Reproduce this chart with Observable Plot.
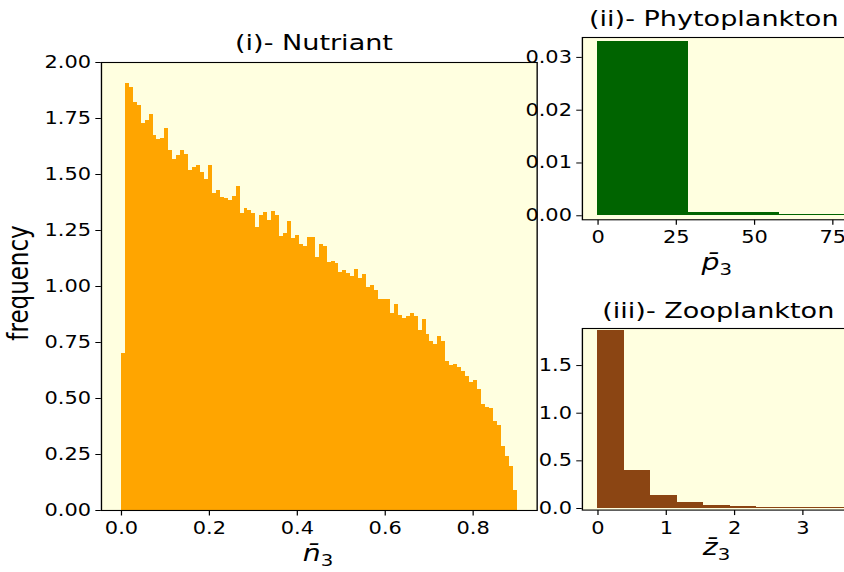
<!DOCTYPE html>
<html>
<head>
<meta charset="utf-8">
<script src="https://cdn.jsdelivr.net/npm/d3@7"></script>
<script src="https://cdn.jsdelivr.net/npm/@observablehq/plot@0.6"></script>
<style>
  html, body { margin: 0; padding: 0; background: #ffffff; overflow: hidden; width: 844px; height: 572px; }
  #stage { position: absolute; left: 0; top: 0; height: 572px; transform-origin: 0 0; }
  #stage > svg { position: absolute; }
</style>
</head>
<body>
<div id="stage"></div>
<script>
// ---------- data ----------
const nutrientRange = [0, 0.9];
const nutrientFreq = [
  0.700, 1.906, 1.890, 1.821, 1.810, 1.729, 1.741, 1.769, 1.674, 1.658,
  1.662, 1.705, 1.609, 1.568, 1.585, 1.607, 1.589, 1.519, 1.531, 1.540,
  1.510, 1.479, 1.540, 1.415, 1.429, 1.399, 1.394, 1.385, 1.403, 1.446,
  1.327, 1.350, 1.341, 1.326, 1.265, 1.317, 1.330, 1.296, 1.335, 1.317,
  1.225, 1.238, 1.290, 1.216, 1.229, 1.189, 1.180, 1.220, 1.220, 1.131,
  1.189, 1.179, 1.109, 1.112, 1.103, 1.063, 1.071, 1.058, 1.045, 1.076,
  1.037, 1.052, 0.997, 1.004, 0.982, 0.942, 0.942, 0.942, 0.879, 0.920,
  0.871, 0.859, 0.866, 0.879, 0.866, 0.804, 0.853, 0.786, 0.754, 0.741,
  0.777, 0.754, 0.665, 0.647, 0.652, 0.638, 0.621, 0.598, 0.571, 0.580,
  0.540, 0.473, 0.460, 0.455, 0.397, 0.379, 0.286, 0.241, 0.196, 0.089
];
const nutrientXTicks = [0, 0.2, 0.4, 0.6, 0.8];
const nutrientYTicks = [0, 0.25, 0.5, 0.75, 1.0, 1.25, 1.5, 1.75, 2.0];

const phytoEdges = [0, 29, 58, 87];
const phytoFreq = [0.0331, 0.00057, 0.00025];
const phytoXTicks = [0, 25, 50, 75];
const phytoYTicks = [0, 0.01, 0.02, 0.03];

const zooBinWidth = 0.388;
const zooFreq = [1.865, 0.396, 0.133, 0.060, 0.028, 0.018, 0.015, 0.011, 0.011, 0.011];
const zooXTicks = [0, 1, 2, 3];
const zooYTicks = [0, 0.5, 1.0, 1.5];

const titles = ["(i)- Nutriant", "(ii)- Phytoplankton", "(iii)- Zooplankton"];
const yLabel = "frequency";

// ---------- layout ----------
const S = 1.23;                 // horizontal stretch of the reference picture
const stage = document.getElementById("stage");
stage.style.width = (844 / S) + "px";
stage.style.transform = `scaleX(${S})`;

const baseStyle = {
  fontFamily: "DejaVu Sans, sans-serif",
  fontSize: "17px",
  color: "black",
  background: "transparent",
  overflow: "visible"
};

function place(svg, left, top) {
  svg.style.left = left + "px";
  svg.style.top = top + "px";
  stage.appendChild(svg);
}

function histPanel({rows, xDomain, yDomain, xTicks, yTicks, xFmt, yFmt, fill, left, top, w, h}) {
  const m = {l: 45, r: 5, t: 5, b: 30};
  const svg = Plot.plot({
    width: w + m.l + m.r,
    height: h + m.t + m.b,
    marginLeft: m.l, marginRight: m.r, marginTop: m.t, marginBottom: m.b,
    style: baseStyle,
    x: {domain: xDomain, ticks: xTicks, tickFormat: xFmt, tickSize: 5.5, tickPadding: 6, label: null},
    y: {domain: yDomain, ticks: yTicks, tickFormat: yFmt, tickSize: 4.5, tickPadding: 4, label: null},
    marks: [
      Plot.frame({fill: "lightyellow", stroke: "none"}),
      Plot.rectY(rows, {x1: "x1", x2: "x2", y: "y", fill, inset: 0, clip: true, shapeRendering: "crispEdges"}),
      Plot.frame({stroke: "black", strokeWidth: 1.1})
    ]
  });
  place(svg, left - m.l, top - m.t);
}

// main panel (i)
const nW = (nutrientRange[1] - nutrientRange[0]) / nutrientFreq.length;
histPanel({
  rows: nutrientFreq.map((v, i) => ({x1: nutrientRange[0] + i * nW, x2: nutrientRange[0] + (i + 1) * nW, y: v})),
  xDomain: [-0.0455, 0.9456], yDomain: [0, 2],
  xTicks: nutrientXTicks, yTicks: nutrientYTicks,
  xFmt: d3.format(".1f"), yFmt: d3.format(".2f"),
  fill: "orange",
  left: 101 / S, top: 61.5, w: (536.7 - 101) / S, h: 448
});

// panel (ii)
histPanel({
  rows: phytoFreq.map((v, i) => ({x1: phytoEdges[i], x2: phytoEdges[i + 1], y: v})),
  xDomain: [-5, 79.2], yDomain: [-0.00076, 0.03377],
  xTicks: phytoXTicks, yTicks: phytoYTicks,
  xFmt: d3.format("d"), yFmt: d3.format(".2f"),
  fill: "darkgreen",
  left: 581.7 / S, top: 36.7, w: (845.3 - 581.7) / S, h: 219 - 36.7
});

// panel (iii)
histPanel({
  rows: zooFreq.map((v, i) => ({x1: i * zooBinWidth, x2: (i + 1) * zooBinWidth, y: v})),
  xDomain: [-0.228, 3.631], yDomain: [-0.0168, 1.889],
  xTicks: zooXTicks, yTicks: zooYTicks,
  xFmt: d3.format("d"), yFmt: d3.format(".1f"),
  fill: "saddlebrown",
  left: 581.7 / S, top: 327.7, w: (845.3 - 581.7) / S, h: 509.3 - 327.7
});

// ---------- text overlay (titles and axis labels) ----------
const ov = d3.create("svg")
  .attr("width", 844 / S).attr("height", 572)
  .style("left", "0px").style("top", "0px")
  .style("overflow", "visible")
  .attr("font-family", "DejaVu Sans, sans-serif")
  .attr("fill", "black");

const titlePos = [[314, 50.5], [713.8, 26.5], [718.3, 318.3]];
titles.forEach((t, i) => {
  ov.append("text").attr("x", titlePos[i][0] / S).attr("y", titlePos[i][1])
    .attr("text-anchor", "middle").attr("font-size", 22).text(t);
});

ov.append("text")
  .attr("transform", `translate(${28 / S},283) rotate(-90)`)
  .attr("text-anchor", "middle").attr("font-size", 23).text(yLabel);

function mathLabel(letter, cx, baseline) {
  const t = ov.append("text").attr("x", cx / S).attr("y", baseline)
    .attr("text-anchor", "middle").attr("font-size", 23);
  t.append("tspan").attr("font-style", "italic").text(letter + "\u0304");
  t.append("tspan").attr("font-size", 16).attr("dy", "0.3em").text("3");
}
mathLabel("n", 318, 561);
mathLabel("p", 716.7, 270);
mathLabel("z", 716.5, 555);

stage.appendChild(ov.node());
</script>
</body>
</html>
